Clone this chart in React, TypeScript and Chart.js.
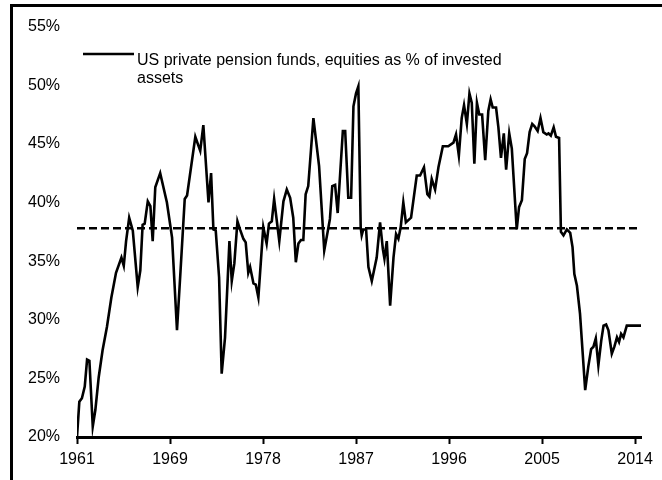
import { useEffect, useRef } from 'react';
import { Chart, registerables } from 'chart.js';

Chart.register(...registerables);

// Period index (quarters from the first observation) of each vertex of the series
const periodIndex = [
  0.0, 0.9, 1.9, 3.0, 3.9, 4.8, 6.1, 7.1, 8.4, 9.9, 11.6, 13.3, 15.1, 17.2, 18.1, 19.0, 20.2, 21.6,
  23.5, 24.5, 25.4, 26.2, 27.4, 28.4, 29.3, 30.3, 32.2, 34.8, 36.8, 38.7, 40.0, 41.7, 42.6, 45.8,
  47.7, 48.9, 50.9, 51.9, 52.8, 53.7, 55.0, 56.0, 57.3, 59.0, 59.9, 60.9, 62.1, 63.1, 64.4, 65.3,
  66.3, 67.0, 68.3, 69.2, 70.2, 72.1, 73.4, 74.3, 75.4, 76.3, 78.3, 79.9, 81.2, 82.5, 83.7, 84.7,
  85.7, 86.7, 87.6, 88.5, 89.5, 91.5, 93.7, 95.7, 97.1, 97.9, 98.8, 99.9, 100.9, 102.9, 103.8,
  105.0, 106.1, 107.0, 108.0, 108.9, 109.8, 110.2, 110.8, 111.9, 112.8, 114.1, 116.0, 117.3,
  118.4, 119.0, 119.9, 121.2, 122.5, 123.5, 124.4, 125.3, 126.3, 127.3, 129.3, 131.5, 132.8,
  134.3, 135.6, 136.4, 137.3, 138.6, 139.9, 141.6, 143.7, 145.7, 146.7, 147.8, 148.9, 149.8,
  150.9, 151.9, 152.8, 153.8, 154.8, 155.7, 156.8, 158.0, 159.2, 160.1, 160.9, 162.2, 163.1,
  164.1, 165.2, 166.1, 167.3, 168.3, 170.2, 171.1, 172.2, 173.3, 174.2, 175.2, 176.2, 177.1,
  178.3, 179.4, 180.5, 181.8, 182.5, 183.4, 184.5, 185.4, 186.6, 187.3, 188.3, 189.6, 190.9,
  191.8, 192.5, 193.5, 194.7, 196.7, 197.9, 199.0, 199.9, 200.8, 201.8, 202.9, 203.8, 204.8,
  205.7, 207.0, 208.0, 209.0, 209.8, 210.6, 211.5, 212.8, 218.3,
];

// US private pension funds, equities as % of invested assets
const equityShare = [
  20.0, 23.0, 23.3, 24.3, 26.6, 26.5, 20.9, 22.3, 25.1, 27.4, 29.4, 31.9, 34.0, 35.3, 34.6, 36.7, 38.7, 37.6,
  32.8, 34.2, 38.1, 38.2, 40.1, 39.7, 36.7, 41.3, 42.5, 40.0, 37.0, 29.1, 33.9, 40.3, 40.6, 45.6,
  44.4, 46.6, 40.0, 42.5, 37.7, 37.6, 33.6, 25.4, 28.5, 36.7, 33.3, 34.8, 38.4, 37.7, 36.9, 36.6,
  34.0, 34.5, 33.1, 33.0, 31.9, 37.9, 36.5, 38.2, 38.4, 40.3, 36.7, 40.1, 41.1, 40.4, 38.7, 34.9,
  36.5, 36.8, 36.8, 40.7, 41.4, 47.2, 43.1, 35.9, 37.6, 38.6, 41.4, 41.5, 39.1, 46.1, 46.1,
  40.4, 40.4, 48.2, 49.3, 49.9, 37.9, 37.2, 37.7, 37.7, 34.5, 33.3, 35.3, 38.3,
  36.0, 35.2, 36.7, 31.2, 35.3, 37.3, 36.9, 37.9, 40.0, 38.3, 38.7, 42.3, 42.3,
  43.0, 40.7, 40.5, 42.0, 41.1, 43.0, 44.8, 44.8, 45.1, 45.8, 44.0, 47.2, 48.3,
  46.7, 49.3, 48.5, 43.3, 48.5, 47.5, 47.5, 43.6, 47.8, 48.8, 48.1, 48.1, 46.4,
  43.8, 45.9, 42.8, 45.9, 44.6, 37.7, 39.6, 40.2, 43.7, 44.2, 46.0, 46.7, 46.5,
  46.1, 47.2, 46.0, 45.8, 45.9, 45.7, 46.4, 45.6, 45.5, 37.5, 37.2, 37.7, 37.4,
  36.2, 33.9, 32.9, 30.5, 24.0, 26.0, 27.5, 27.7, 28.4, 26.1, 28.2, 29.5, 29.6,
  29.1, 27.1, 27.7, 28.5, 28.1, 28.8, 28.5, 29.5, 29.5,
];

const averageLevel = 37.8;
const averageSpan = [0, 217.6];
const xTickLabels = ['1961', '1969', '1978', '1987', '1996', '2005', '2014'];
const xTickStep = 36;
const xMax = 218.3;
const yMin = 20;
const yMax = 55;
const yStep = 5;
const legendLabel = 'US private pension funds, equities as % of invested assets';

const FONT_FAMILY = '"Liberation Sans", Arial, Helvetica, sans-serif';

export default function App() {
  const canvasRef = useRef<HTMLCanvasElement | null>(null);

  useEffect(() => {
    const canvas = canvasRef.current;
    if (!canvas) return;

    const seriesPoints = periodIndex.map((x, i) => ({ x, y: equityShare[i] }));
    const averagePoints = averageSpan.map((x) => ({ x, y: averageLevel }));

    const decorPlugin = {
      id: 'decor',
      afterDraw(chart: any) {
        const ctx = chart.ctx as CanvasRenderingContext2D;
        ctx.save();
        // outer frame (top and left edges)
        ctx.fillStyle = '#000';
        ctx.fillRect(10, 4, 652, 3);
        ctx.fillRect(10, 4, 3, 476);

        // legend
        ctx.strokeStyle = '#000';
        ctx.lineWidth = 2.5;
        ctx.beginPath();
        ctx.moveTo(83, 54);
        ctx.lineTo(134, 54);
        ctx.stroke();

        ctx.font = `16px ${FONT_FAMILY}`;
        ctx.fillStyle = '#000';
        ctx.textAlign = 'left';
        ctx.textBaseline = 'alphabetic';
        const words = legendLabel.split(' ');
        const lines: string[] = [];
        let current = '';
        const maxWidth = 380;
        for (const w of words) {
          const test = current ? current + ' ' + w : w;
          if (ctx.measureText(test).width > maxWidth && current) {
            lines.push(current);
            current = w;
          } else {
            current = test;
          }
        }
        if (current) lines.push(current);
        lines.forEach((line, i) => {
          ctx.fillText(line, 137, 65 + i * 18);
        });
        ctx.restore();
      },
    };

    const chart = new Chart(canvas, {
      type: 'line',
      data: {
        datasets: [
          {
            label: legendLabel,
            data: seriesPoints,
            borderColor: '#000',
            borderWidth: 2.6,
            pointRadius: 0,
            tension: 0,
            fill: false,
          },
          {
            label: 'Average',
            data: averagePoints,
            borderColor: '#000',
            borderWidth: 2.4,
            borderDash: [8, 4],
            pointRadius: 0,
            tension: 0,
            fill: false,
          },
        ],
      },
      options: {
        responsive: false,
        animation: false,
        layout: { padding: { left: 20, right: 21, top: 25, bottom: 0 } },
        plugins: {
          legend: { display: false },
          tooltip: { enabled: false },
          title: { display: false },
        },
        scales: {
          x: {
            type: 'linear',
            min: 0,
            max: xMax,
            afterBuildTicks: (scale: any) => {
              scale.ticks = xTickLabels.map((_, i) => ({ value: i * xTickStep }));
            },
            afterFit: (scale: any) => {
              scale.height = 43;
            },
            ticks: {
              autoSkip: false,
              maxRotation: 0,
              minRotation: 0,
              padding: 6,
              color: '#000',
              font: { family: FONT_FAMILY, size: 16 },
              callback: (_v: any, index: number) => xTickLabels[index],
            },
            grid: {
              display: true,
              drawOnChartArea: false,
              drawTicks: true,
              tickLength: 7,
              tickWidth: 2,
              tickColor: '#000',
            },
            border: { display: true, color: '#000', width: 3 },
          },
          y: {
            type: 'linear',
            min: yMin,
            max: yMax,
            afterFit: (scale: any) => {
              scale.width = 57;
            },
            ticks: {
              stepSize: yStep,
              padding: 17,
              color: '#000',
              font: { family: FONT_FAMILY, size: 16 },
              callback: (v: any) => `${v}%`,
            },
            grid: { display: false, drawTicks: false },
            border: { display: false },
          },
        },
      },
      plugins: [decorPlugin],
    });

    return () => {
      chart.destroy();
    };
  }, []);

  return (
    <div style={{ position: 'fixed', left: 0, top: 0, width: 662, height: 480, background: '#fff' }}>
      <canvas ref={canvasRef} width={662} height={480} style={{ display: 'block' }} />
    </div>
  );
}
